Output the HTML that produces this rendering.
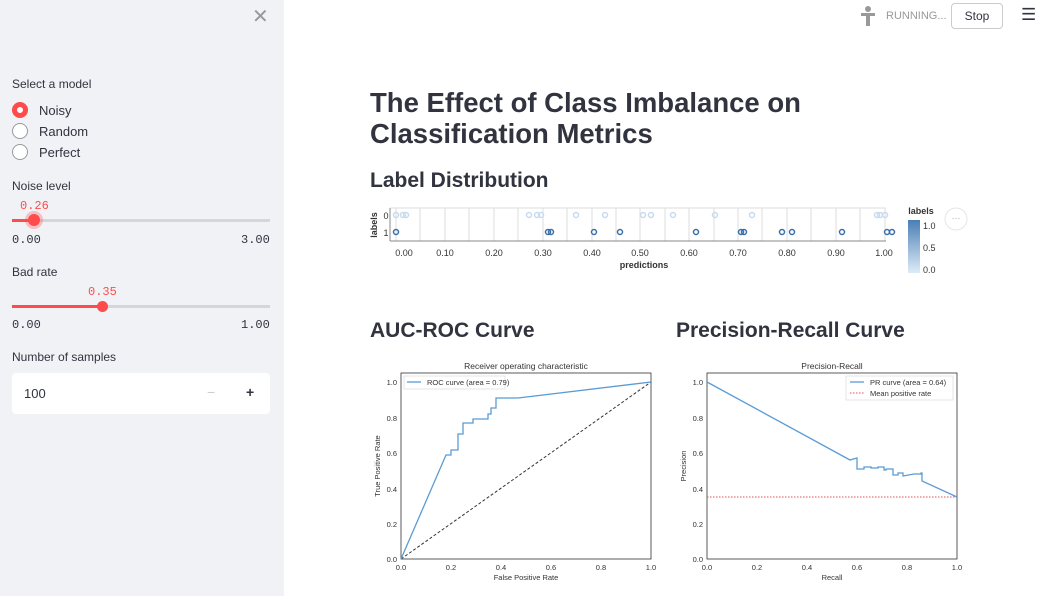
<!DOCTYPE html>
<html><head><meta charset="utf-8"><style>
body{margin:0;width:1050px;height:596px;overflow:hidden;background:#fff;font-family:"Liberation Sans",sans-serif;position:relative;color:#31333f}
.sb{position:absolute;left:0;top:0;width:284px;height:596px;background:#f0f2f6}
.a{position:absolute;white-space:nowrap}
h1{position:absolute;left:370px;top:87px;margin:0;font-size:27.5px;line-height:31px;font-weight:bold;color:#31333f}
h2{position:absolute;margin:0;font-size:21px;font-weight:bold;color:#31333f}
.r{position:absolute;left:12px;width:16px;height:16px;border:1px solid #999;border-radius:50%;background:#fff;box-sizing:border-box}
.mono{font-family:"Liberation Mono",monospace;font-size:12px}
</style></head><body>
<div class="sb">
<div class="a" style="left:252px;top:4px;font-size:20px;color:#999">✕</div>
<div class="a" style="left:12px;top:77px;font-size:12px">Select a model</div>
<div class="r" style="top:102px;border:5px solid #ff4b4b"></div><div class="a" style="left:39px;top:103px;font-size:13px">Noisy</div>
<div class="r" style="top:123px"></div><div class="a" style="left:39px;top:124px;font-size:13px">Random</div>
<div class="r" style="top:144px"></div><div class="a" style="left:39px;top:145px;font-size:13px">Perfect</div>
<div class="a" style="left:12px;top:179px;font-size:12px">Noise level</div>
<div class="a mono" style="left:20px;top:199px;color:#ff4b4b">0.26</div>
<div class="a" style="left:12px;top:219px;width:258px;height:3px;background:#d5d6da"></div>
<div class="a" style="left:12px;top:219px;width:22px;height:3px;background:#ff4b4b"></div>
<div class="a" style="left:28px;top:214px;width:12px;height:12px;border-radius:50%;background:#ff4b4b;box-shadow:0 0 0 3px rgba(255,75,75,.3)"></div>
<div class="a mono" style="left:12px;top:233px">0.00</div><div class="a mono" style="left:241px;top:233px">3.00</div>
<div class="a" style="left:12px;top:265px;font-size:12px">Bad rate</div>
<div class="a mono" style="left:88px;top:285px;color:#ff4b4b">0.35</div>
<div class="a" style="left:12px;top:305px;width:258px;height:3px;background:#d5d6da"></div>
<div class="a" style="left:12px;top:305px;width:90px;height:3px;background:#ff4b4b"></div>
<div class="a" style="left:97px;top:301px;width:11px;height:11px;border-radius:50%;background:#ff4b4b"></div>
<div class="a mono" style="left:12px;top:318px">0.00</div><div class="a mono" style="left:241px;top:318px">1.00</div>
<div class="a" style="left:12px;top:350px;font-size:12px">Number of samples</div>
<div class="a" style="left:12px;top:373px;width:258px;height:41px;background:#fff;border-radius:4px"></div>
<div class="a" style="left:24px;top:386px;font-size:13px">100</div>
<div class="a" style="left:207px;top:384px;font-size:14px;color:#ccc">−</div>
<div class="a" style="left:246px;top:384px;font-size:14px;font-weight:bold">+</div>
</div>
<div class="a" style="left:861px;top:6px;width:14px;height:20px">
<div class="a" style="left:4px;top:0;width:6px;height:6px;border-radius:50%;background:#999"></div>
<div class="a" style="left:0;top:7px;width:14px;height:3px;background:#999"></div>
<div class="a" style="left:5px;top:7px;width:4px;height:13px;background:#999"></div>
</div>
<div class="a" style="left:886px;top:10px;font-size:11px;color:#999">RUNNING...</div>
<div class="a" style="left:951px;top:3px;width:52px;height:26px;border:1px solid #ccc;border-radius:4px;box-sizing:border-box;font-size:12px;text-align:center;line-height:24px">Stop</div>
<div class="a" style="left:1021px;top:5px;font-size:17px">☰</div>
<h1>The Effect of Class Imbalance on<br>Classification Metrics</h1>
<h2 style="left:370px;top:169px">Label Distribution</h2>
<h2 style="left:370px;top:319px">AUC-ROC Curve</h2>
<h2 style="left:676px;top:319px">Precision-Recall Curve</h2>
<svg class="a" style="left:0;top:0" width="1050" height="596" font-family="Liberation Sans,sans-serif">
<defs><linearGradient id="g" x1="0" y1="1" x2="0" y2="0"><stop offset="0" stop-color="#deebf7"/><stop offset="1" stop-color="#4a7fb5"/></linearGradient></defs>
<g stroke="#ddd" stroke-width="1">
<line x1="396" y1="208" x2="396" y2="241"/><line x1="445" y1="208" x2="445" y2="241"/><line x1="494" y1="208" x2="494" y2="241"/><line x1="543" y1="208" x2="543" y2="241"/><line x1="592" y1="208" x2="592" y2="241"/><line x1="640" y1="208" x2="640" y2="241"/><line x1="689" y1="208" x2="689" y2="241"/><line x1="738" y1="208" x2="738" y2="241"/><line x1="787" y1="208" x2="787" y2="241"/><line x1="836" y1="208" x2="836" y2="241"/><line x1="885" y1="208" x2="885" y2="241"/>
<line x1="420" y1="208" x2="420" y2="241"/><line x1="469" y1="208" x2="469" y2="241"/><line x1="518" y1="208" x2="518" y2="241"/><line x1="567" y1="208" x2="567" y2="241"/><line x1="616" y1="208" x2="616" y2="241"/><line x1="665" y1="208" x2="665" y2="241"/><line x1="714" y1="208" x2="714" y2="241"/><line x1="762" y1="208" x2="762" y2="241"/><line x1="811" y1="208" x2="811" y2="241"/><line x1="860" y1="208" x2="860" y2="241"/>
<line x1="390" y1="208" x2="886" y2="208"/>
</g>
<line x1="390" y1="241" x2="886" y2="241" stroke="#888"/>
<line x1="390" y1="208" x2="390" y2="241" stroke="#888"/>
<g fill="none" stroke="#c6dbef" stroke-width="1.5">
<circle cx="396" cy="215" r="2.5"/><circle cx="403" cy="215" r="2.5"/><circle cx="406" cy="215" r="2.5"/><circle cx="529" cy="215" r="2.5"/><circle cx="537" cy="215" r="2.5"/><circle cx="541" cy="215" r="2.5"/><circle cx="576" cy="215" r="2.5"/><circle cx="605" cy="215" r="2.5"/><circle cx="643" cy="215" r="2.5"/><circle cx="651" cy="215" r="2.5"/><circle cx="673" cy="215" r="2.5"/><circle cx="715" cy="215" r="2.5"/><circle cx="752" cy="215" r="2.5"/><circle cx="877" cy="215" r="2.5"/><circle cx="880" cy="215" r="2.5"/><circle cx="885" cy="215" r="2.5"/>
</g>
<g fill="none" stroke="#3b6fa8" stroke-width="1.5">
<circle cx="396" cy="232" r="2.5"/><circle cx="548" cy="232" r="2.5"/><circle cx="551" cy="232" r="2.5"/><circle cx="594" cy="232" r="2.5"/><circle cx="620" cy="232" r="2.5"/><circle cx="696" cy="232" r="2.5"/><circle cx="741" cy="232" r="2.5"/><circle cx="744" cy="232" r="2.5"/><circle cx="782" cy="232" r="2.5"/><circle cx="792" cy="232" r="2.5"/><circle cx="842" cy="232" r="2.5"/><circle cx="887" cy="232" r="2.5"/><circle cx="892" cy="232" r="2.5"/>
</g>
<g font-size="9" fill="#333" text-anchor="middle">
<text x="404" y="256">0.00</text><text x="445" y="256">0.10</text><text x="494" y="256">0.20</text><text x="543" y="256">0.30</text><text x="592" y="256">0.40</text><text x="640" y="256">0.50</text><text x="689" y="256">0.60</text><text x="738" y="256">0.70</text><text x="787" y="256">0.80</text><text x="836" y="256">0.90</text><text x="884" y="256">1.00</text>
<text x="644" y="268" font-weight="bold">predictions</text>
<text x="386" y="219">0</text><text x="386" y="236">1</text>
<text x="377" y="225" font-weight="bold" transform="rotate(-90 377 225)">labels</text>
<text x="921" y="214" font-weight="bold">labels</text>
</g>
<rect x="908" y="220" width="12" height="53" fill="url(#g)"/>
<g font-size="9" fill="#333"><text x="923" y="229">1.0</text><text x="923" y="251">0.5</text><text x="923" y="273">0.0</text></g>
<circle cx="956" cy="219" r="11" fill="#fff" stroke="#e6e6e6"/><text x="956" y="221" font-size="9" fill="#aaa" text-anchor="middle">···</text>
<g font-size="7.5" fill="#333">
<text x="526" y="369" text-anchor="middle" font-size="8.5">Receiver operating characteristic</text>
<rect x="401" y="373" width="250" height="186" fill="none" stroke="#333" stroke-width="0.8"/>
<polyline fill="none" stroke="#333" stroke-dasharray="3,2" points="401,559 651,382"/>
<polyline fill="none" stroke="#5b9bd5" stroke-width="1.3" points="401,559 446,455 451,455 451,450 458,450 458,434 463,434 463,423 473,423 473,419 488,419 488,414 491,414 491,408 496,408 496,398 518,398 651,382"/>
<rect x="404" y="376" width="101" height="13" fill="#fff" stroke="#ccc" stroke-width="0.5"/>
<line x1="407" y1="382" x2="421" y2="382" stroke="#5b9bd5" stroke-width="1.3"/><text x="427" y="385">ROC curve (area = 0.79)</text>
<g text-anchor="end"><text x="397" y="385">1.0</text><text x="397" y="421">0.8</text><text x="397" y="456">0.6</text><text x="397" y="492">0.4</text><text x="397" y="527">0.2</text><text x="397" y="562">0.0</text></g>
<g text-anchor="middle"><text x="401" y="570">0.0</text><text x="451" y="570">0.2</text><text x="501" y="570">0.4</text><text x="551" y="570">0.6</text><text x="601" y="570">0.8</text><text x="651" y="570">1.0</text>
<text x="526" y="580">False Positive Rate</text>
<text x="380" y="466" transform="rotate(-90 380 466)">True Positive Rate</text></g>
</g>
<g font-size="7.5" fill="#333">
<text x="832" y="369" text-anchor="middle" font-size="8.5">Precision-Recall</text>
<rect x="707" y="373" width="250" height="186" fill="none" stroke="#333" stroke-width="0.8"/>
<line x1="707" y1="497" x2="957" y2="497" stroke="#e05050" stroke-dasharray="1.5,1.5"/>
<polyline fill="none" stroke="#5b9bd5" stroke-width="1.3" points="707,382 850,460 857,458 857,469 864,469 864,467 871,467 871,468 878,468 878,467 884,467 884,470 886,470 886,469 893,469 893,475 898,475 898,473 903,473 903,476 914,474 921,474 921,473 922,473 922,481 957,497"/>
<rect x="846" y="376" width="107" height="24" fill="#fff" stroke="#ccc" stroke-width="0.5"/>
<line x1="850" y1="382" x2="864" y2="382" stroke="#5b9bd5" stroke-width="1.3"/><text x="870" y="385">PR curve (area = 0.64)</text>
<line x1="850" y1="393" x2="864" y2="393" stroke="#e05050" stroke-dasharray="1.5,1.5"/><text x="870" y="396">Mean positive rate</text>
<g text-anchor="end"><text x="703" y="385">1.0</text><text x="703" y="421">0.8</text><text x="703" y="456">0.6</text><text x="703" y="492">0.4</text><text x="703" y="527">0.2</text><text x="703" y="562">0.0</text></g>
<g text-anchor="middle"><text x="707" y="570">0.0</text><text x="757" y="570">0.2</text><text x="807" y="570">0.4</text><text x="857" y="570">0.6</text><text x="907" y="570">0.8</text><text x="957" y="570">1.0</text>
<text x="832" y="580">Recall</text>
<text x="686" y="466" transform="rotate(-90 686 466)">Precision</text></g>
</g>
</svg>
</body></html>
